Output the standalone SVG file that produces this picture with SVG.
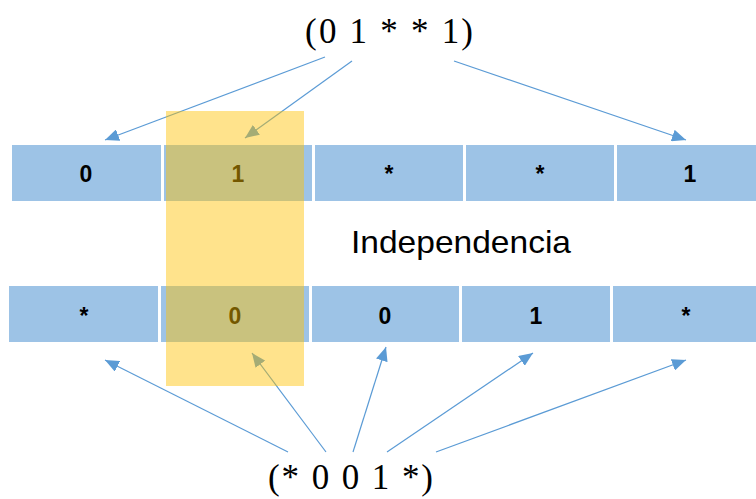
<svg xmlns="http://www.w3.org/2000/svg" width="756" height="499" viewBox="0 0 756 499">
<defs>
<style>
.cell{fill:#9DC3E6}
.ct{font-family:"Liberation Sans",Arial,sans-serif;font-weight:bold;font-size:23px;fill:#000;text-anchor:middle}
.math{font-family:"Liberation Serif","DejaVu Serif",serif;font-size:35px;fill:#000}
.lbl{font-family:"Liberation Sans",Arial,sans-serif;font-size:32px;fill:#000}
.arr{stroke:#5B9BD5;stroke-width:1.2;fill:none;marker-end:url(#ah)}
</style>
<marker id="ah" markerUnits="userSpaceOnUse" markerWidth="15" markerHeight="12" refX="14" refY="6" orient="auto" viewBox="0 0 15 12">
<path d="M0,0 L14,6 L0,12 z" fill="#5B9BD5"/>
</marker>
</defs>
<rect width="756" height="499" fill="#fff"/>
<g id="row-top">
<g id="t1"><rect class="cell" x="12" y="145" width="149" height="56"/><text class="ct" x="86" y="182">0</text></g>
<g id="t2"><rect class="cell" x="164" y="145" width="148" height="56"/><text class="ct" x="238" y="182">1</text></g>
<g id="t3"><rect class="cell" x="315" y="145" width="148" height="56"/><text class="ct" x="389" y="182">*</text></g>
<g id="t4"><rect class="cell" x="466" y="145" width="148" height="56"/><text class="ct" x="540" y="182">*</text></g>
<g id="t5"><rect class="cell" x="617" y="145" width="139" height="56"/><text class="ct" x="690" y="182">1</text></g>
</g>
<g id="row-bottom">
<g id="b1"><rect class="cell" x="9" y="286" width="149" height="56"/><text class="ct" x="84" y="324">*</text></g>
<g id="b2"><rect class="cell" x="161" y="286" width="148" height="56"/><text class="ct" x="235" y="324">0</text></g>
<g id="b3"><rect class="cell" x="312" y="286" width="147" height="56"/><text class="ct" x="385" y="324">0</text></g>
<g id="b4"><rect class="cell" x="462" y="286" width="148" height="56"/><text class="ct" x="536" y="324">1</text></g>
<g id="b5"><rect class="cell" x="613" y="286" width="143" height="56"/><text class="ct" x="686" y="324">*</text></g>
</g>
<g id="label-independencia"><text class="lbl" x="351" y="253" textLength="220" lengthAdjust="spacingAndGlyphs">Independencia</text></g>
<g id="vec-top"><text class="math" x="305" y="43" textLength="168" lengthAdjust="spacing">(0 1 * * 1)</text></g>
<g id="vec-bottom"><text class="math" x="268" y="489" textLength="165" lengthAdjust="spacing">(* 0 0 1 *)</text></g>
<g id="connectors">
<line class="arr" x1="325" y1="57" x2="105" y2="140"/>
<line class="arr" x1="352" y1="61" x2="245" y2="138"/>
<line class="arr" x1="454" y1="61" x2="686" y2="140"/>
<line class="arr" x1="288" y1="452" x2="105" y2="360"/>
<line class="arr" x1="326" y1="452" x2="252" y2="353"/>
<line class="arr" x1="353" y1="452" x2="386" y2="347"/>
<line class="arr" x1="387" y1="452" x2="533" y2="353"/>
<line class="arr" x1="436" y1="452" x2="686" y2="360"/>
</g>
<g id="highlight"><rect x="166" y="111" width="138" height="275" fill="#FFC000" fill-opacity="0.45"/></g>
</svg>
